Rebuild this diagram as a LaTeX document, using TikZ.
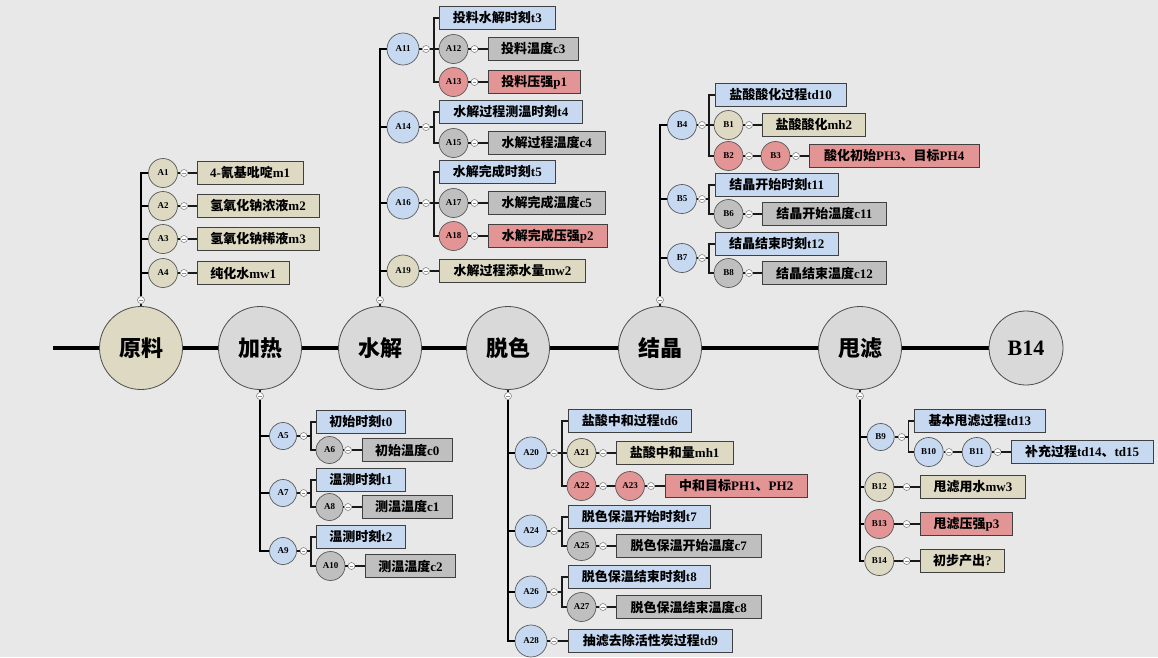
\documentclass[tikz,border=0pt]{standalone}
\usepackage{fontspec}
\setmainfont{Liberation Serif}
\newfontfamily\cjk{Noto Sans CJK SC}
\usetikzlibrary{backgrounds}
\newcommand\zh[1]{{\cjk #1}}
\definecolor{cblue}{HTML}{C6D9F1}
\definecolor{cbeige}{HTML}{DDD9C3}
\definecolor{cgray}{HTML}{BFBFBF}
\definecolor{cred}{HTML}{E39494}
\definecolor{cmain}{HTML}{D9D9D9}
\definecolor{cbg}{HTML}{E8E8E8}
\tikzset{
  mainc/.style={circle, draw=black!70, line width=0.8pt, minimum size=83pt, inner sep=0pt, font=\bfseries\fontsize{22}{24}\selectfont},
  sc/.style={circle, draw=black!65, line width=0.7pt, minimum size=29pt, inner sep=0pt, font=\bfseries\fontsize{9}{10}\selectfont},
  big/.style={minimum size=32pt},
  small/.style={minimum size=27pt},
  knob/.style={circle, draw=black!55, fill=white, minimum size=7pt, inner sep=0pt, line width=0.5pt,
    path picture={\draw[black!45, line width=0.4pt] ([xshift=-1.8pt]path picture bounding box.center) -- ([xshift=1.8pt]path picture bounding box.center);}},
  bx/.style={rectangle, draw=black!75, line width=0.8pt, minimum height=23pt, inner xsep=3pt, inner ysep=0pt, font=\bfseries\fontsize{13}{15}\selectfont},
  trunk/.style={line width=2.2pt, black},
  stub/.style={line width=1.3pt, black!90},
  mainline/.style={line width=4pt, black},
}
\newcommand\cn[6][]{\node[sc,fill=#5,#1] (#2) at (#3,#4) {#6};}
\newcommand\kb[3]{\node[knob] (#1) at (#2,#3) {};}
\newcommand\bx[6]{\node[bx,fill=#5,minimum width=#4pt,anchor=west] (#1) at (#2,#3) {#6};}
\begin{document}
\begin{tikzpicture}[x=1pt,y=-1pt]
\useasboundingbox (0,0) rectangle (1158,657);
% main circles
\node[mainc, fill=cbeige] (m1) at (141,348) {\zh{原料}};
\node[mainc, fill=cmain] (m2) at (260,348) {\zh{加热}};
\node[mainc, fill=cmain] (m3) at (380,348) {\zh{水解}};
\node[mainc, fill=cmain] (m4) at (508,348) {\zh{脱色}};
\node[mainc, fill=cmain] (m5) at (660,348) {\zh{结晶}};
\node[mainc, fill=cmain] (m6) at (860,348) {\zh{甩滤}};
\node[mainc, fill=cmain, minimum size=74pt] (m7) at (1026,348) {B14};
\begin{scope}[on background layer]
\fill[cbg] (0,0) rectangle (1158,657);
\coordinate (start) at (53,348);
\draw[mainline] (start) -- (m1.center) -- (m2.center) -- (m3.center) -- (m4.center) -- (m5.center) -- (m6.center) -- (m7.center);
\end{scope}
\kb{km1}{141}{300} \kb{km3}{380}{300} \kb{km5}{660}{300}
\kb{km2}{260}{396} \kb{km4}{508}{396} \kb{km6}{860}{396}
\foreach \k/\m in {km1/m1,km2/m2,km3/m3,km4/m4,km5/m5,km6/m6} {\draw[stub] (\k) -- (\m);}

% ---- 原料
\cn{a1}{163}{173}{cbeige}{A1} \kb{ka1}{184}{173} \bx{ba1}{196.5}{173}{106.5}{cbeige}{4-\zh{氰基吡啶}m1}
\cn{a2}{163}{206}{cbeige}{A2} \kb{ka2}{184}{206} \bx{ba2}{196.5}{206}{122.5}{cbeige}{\zh{氢氧化钠浓液}m2}
\cn{a3}{163}{239}{cbeige}{A3} \kb{ka3}{184}{239} \bx{ba3}{196.5}{239}{122.5}{cbeige}{\zh{氢氧化钠稀液}m3}
\cn{a4}{163}{273}{cbeige}{A4} \kb{ka4}{184}{273} \bx{ba4}{196.5}{273}{92.5}{cbeige}{\zh{纯化水}mw1}
\foreach \n in {1,2,3,4} {\draw[trunk] (km1.north) |- (a\n.west); \draw[stub] (a\n) -- (ka\n) -- (ba\n);}

% ---- 水解
\cn[big]{a11}{403}{49}{cblue}{A11} \kb{ka11}{426}{49} \coordinate (j11) at (434,49);
\bx{t3}{439}{18}{116}{cblue}{\zh{投料水解时刻}t3}
\cn{a12}{453.5}{49}{cgray}{A12} \kb{ka12}{474.5}{49} \bx{ba12}{487.5}{49}{90.5}{cgray}{\zh{投料温度}c3}
\cn{a13}{453.5}{82}{cred}{A13} \kb{ka13}{474.5}{82} \bx{ba13}{487.5}{82}{92.5}{cred}{\zh{投料压强}p1}
\cn[big]{a14}{403}{127}{cblue}{A14} \kb{ka14}{426}{127} \coordinate (j14) at (434,127);
\bx{t4}{439}{112}{143}{cblue}{\zh{水解过程测温时刻}t4}
\cn{a15}{453.5}{143}{cgray}{A15} \kb{ka15}{474.5}{143} \bx{ba15}{487.5}{143}{117.5}{cgray}{\zh{水解过程温度}c4}
\cn[big]{a16}{403}{203}{cblue}{A16} \kb{ka16}{426}{203} \coordinate (j16) at (434,203);
\bx{t5}{439}{172}{116}{cblue}{\zh{水解完成时刻}t5}
\cn{a17}{453.5}{203}{cgray}{A17} \kb{ka17}{474.5}{203} \bx{ba17}{487.5}{203}{117.5}{cgray}{\zh{水解完成温度}c5}
\cn{a18}{453.5}{236}{cred}{A18} \kb{ka18}{474.5}{236} \bx{ba18}{487.5}{236}{119.5}{cred}{\zh{水解完成压强}p2}
\cn[big]{a19}{403}{271}{cbeige}{A19} \kb{ka19}{426}{271} \bx{ba19}{439}{271}{146}{cbeige}{\zh{水解过程添水量}mw2}
\foreach \n in {11,14,16,19} {\draw[trunk] (km3.north) |- (a\n.west);}
\draw[stub] (a11) -- (ka11) -- (j11) -- (a12);
\draw[stub] (j11) |- (t3.west); \draw[stub] (j11) |- (a13.west);
\draw[stub] (a12) -- (ka12) -- (ba12); \draw[stub] (a13) -- (ka13) -- (ba13);
\draw[stub] (a14) -- (ka14) -- (j14);
\draw[stub] (j14) |- (t4.west); \draw[stub] (j14) |- (a15.west);
\draw[stub] (a15) -- (ka15) -- (ba15);
\draw[stub] (a16) -- (ka16) -- (j16) -- (a17);
\draw[stub] (j16) |- (t5.west); \draw[stub] (j16) |- (a18.west);
\draw[stub] (a17) -- (ka17) -- (ba17); \draw[stub] (a18) -- (ka18) -- (ba18);
\draw[stub] (a19) -- (ka19) -- (ba19);

% ---- 结晶
\cn{b4}{682}{125}{cblue}{B4} \kb{kb4}{702}{125} \coordinate (j4) at (709,125);
\bx{td10}{715}{95}{130.5}{cblue}{\zh{盐酸酸化过程}td10}
\cn{b1}{728.5}{125}{cbeige}{B1} \kb{kb1}{749}{125} \bx{bb1}{762}{125}{103}{cbeige}{\zh{盐酸酸化}mh2}
\cn{b2}{728.5}{156}{cred}{B2} \kb{kb2}{749}{156}
\cn{b3}{775.5}{156}{cred}{B3} \kb{kb3}{796}{156} \bx{bb3}{809}{156}{169.6}{cred}{\zh{酸化初始}PH3\zh{、目标}PH4}
\cn{b5}{682}{199}{cblue}{B5} \kb{kb5}{702}{199} \coordinate (j5) at (709,199);
\bx{t11}{715}{185}{122.6}{cblue}{\zh{结晶开始时刻}t11}
\cn{b6}{728.5}{214}{cgray}{B6} \kb{kb6}{749}{214} \bx{bb6}{762}{214}{124}{cgray}{\zh{结晶开始温度}c11}
\cn{b7}{682}{258}{cblue}{B7} \kb{kb7}{702}{258} \coordinate (j7) at (709,258);
\bx{t12}{715}{244}{122.6}{cblue}{\zh{结晶结束时刻}t12}
\cn{b8}{728.5}{273}{cgray}{B8} \kb{kb8}{749}{273} \bx{bb8}{762}{273}{124}{cgray}{\zh{结晶结束温度}c12}
\foreach \n in {4,5,7} {\draw[trunk] (km5.north) |- (b\n.west);}
\draw[stub] (b4) -- (kb4) -- (j4) -- (b1);
\draw[stub] (j4) |- (td10.west); \draw[stub] (j4) |- (b2.west);
\draw[stub] (b1) -- (kb1) -- (bb1);
\draw[stub] (b2) -- (kb2) -- (b3) -- (kb3) -- (bb3);
\draw[stub] (b5) -- (kb5) -- (j5);
\draw[stub] (j5) |- (t11.west); \draw[stub] (j5) |- (b6.west);
\draw[stub] (b6) -- (kb6) -- (bb6);
\draw[stub] (b7) -- (kb7) -- (j7);
\draw[stub] (j7) |- (t12.west); \draw[stub] (j7) |- (b8.west);
\draw[stub] (b8) -- (kb8) -- (bb8);

% ---- 加热
\cn[small]{a5}{283}{436}{cblue}{A5} \kb{ka5}{303.6}{436} \coordinate (jh5) at (311,436);
\bx{t0}{316}{422}{89}{cblue}{\zh{初始时刻}t0}
\cn[small]{a6}{329.5}{450}{cgray}{A6} \kb{ka6}{348}{450} \bx{ba6}{362}{450}{89.5}{cgray}{\zh{初始温度}c0}
\cn[small]{a7}{283}{493}{cblue}{A7} \kb{ka7}{303.6}{493} \coordinate (jh7) at (311,493);
\bx{t1}{316}{480}{89}{cblue}{\zh{温测时刻}t1}
\cn[small]{a8}{329.5}{507}{cgray}{A8} \kb{ka8}{348}{507} \bx{ba8}{362}{507}{89.5}{cgray}{\zh{测温温度}c1}
\cn[small]{a9}{283}{551}{cblue}{A9} \kb{ka9}{303.6}{551} \coordinate (jh9) at (311,551);
\bx{t2}{316}{537}{89}{cblue}{\zh{温测时刻}t2}
\cn{a10}{330.5}{566}{cgray}{A10} \kb{ka10}{351.5}{566} \bx{ba10}{365}{566}{90}{cgray}{\zh{测温温度}c2}
\foreach \n in {5,7,9} {\draw[trunk] (km2.south) |- (a\n.west);}
\draw[stub] (a5) -- (ka5) -- (jh5); \draw[stub] (jh5) |- (t0.west); \draw[stub] (jh5) |- (a6.west);
\draw[stub] (a6) -- (ka6) -- (ba6);
\draw[stub] (a7) -- (ka7) -- (jh7); \draw[stub] (jh7) |- (t1.west); \draw[stub] (jh7) |- (a8.west);
\draw[stub] (a8) -- (ka8) -- (ba8);
\draw[stub] (a9) -- (ka9) -- (jh9); \draw[stub] (jh9) |- (t2.west); \draw[stub] (jh9) |- (a10.west);
\draw[stub] (a10) -- (ka10) -- (ba10);

% ---- 脱色
\cn[big]{a20}{531}{453}{cblue}{A20} \kb{ka20}{554}{453} \coordinate (j20) at (562,453);
\bx{td6}{568}{421}{123}{cblue}{\zh{盐酸中和过程}td6}
\cn{a21}{581.5}{453}{cbeige}{A21} \kb{ka21}{603}{453} \bx{ba21}{616}{453}{116.6}{cbeige}{\zh{盐酸中和量}mh1}
\cn{a22}{581.5}{486}{cred}{A22} \kb{ka22}{603}{486}
\cn{a23}{630}{486}{cred}{A23} \kb{ka23}{651}{486} \bx{ba23}{664.6}{486}{142.4}{cred}{\zh{中和目标}PH1\zh{、}PH2}
\cn[big]{a24}{531}{531}{cblue}{A24} \kb{ka24}{554}{531} \coordinate (j24) at (562,531);
\bx{t7}{568}{517}{142}{cblue}{\zh{脱色保温开始时刻}t7}
\cn{a25}{581.5}{546}{cgray}{A25} \kb{ka25}{603}{546} \bx{ba25}{616}{546}{144.7}{cgray}{\zh{脱色保温开始温度}c7}
\cn[big]{a26}{531}{592}{cblue}{A26} \kb{ka26}{554}{592} \coordinate (j26) at (562,592);
\bx{t8}{568}{577}{142}{cblue}{\zh{脱色保温结束时刻}t8}
\cn{a27}{581.5}{607}{cgray}{A27} \kb{ka27}{603}{607} \bx{ba27}{616}{607}{144.7}{cgray}{\zh{脱色保温结束温度}c8}
\cn[big]{a28}{531}{641}{cblue}{A28} \kb{ka28}{554}{641} \bx{ba28}{568}{641}{164}{cblue}{\zh{抽滤去除活性炭过程}td9}
\foreach \n in {20,24,26,28} {\draw[trunk] (km4.south) |- (a\n.west);}
\draw[stub] (a20) -- (ka20) -- (j20) -- (a21);
\draw[stub] (j20) |- (td6.west); \draw[stub] (j20) |- (a22.west);
\draw[stub] (a21) -- (ka21) -- (ba21);
\draw[stub] (a22) -- (ka22) -- (a23) -- (ka23) -- (ba23);
\draw[stub] (a24) -- (ka24) -- (j24); \draw[stub] (j24) |- (t7.west); \draw[stub] (j24) |- (a25.west);
\draw[stub] (a25) -- (ka25) -- (ba25);
\draw[stub] (a26) -- (ka26) -- (j26); \draw[stub] (j26) |- (t8.west); \draw[stub] (j26) |- (a27.west);
\draw[stub] (a27) -- (ka27) -- (ba27);
\draw[stub] (a28) -- (ka28) -- (ba28);

% ---- 甩滤
\cn[small]{b9}{880.7}{437}{cblue}{B9} \kb{kb9}{901.7}{437} \coordinate (j9) at (908.7,437);
\bx{td13}{914}{421}{131}{cblue}{\zh{基本甩滤过程}td13}
\cn{b10}{928.7}{452}{cblue}{B10} \kb{kb10}{949}{452}
\cn{b11}{976.7}{452}{cblue}{B11} \kb{kb11}{997.7}{452} \bx{bb11}{1010.7}{452}{142}{cblue}{\zh{补充过程}td14\zh{、}td15}
\cn{b12}{879.3}{487}{cbeige}{B12} \kb{kb12}{906.7}{487} \bx{bb12}{920}{487}{105}{cbeige}{\zh{甩滤用水}mw3}
\cn{b13}{879.3}{524}{cred}{B13} \kb{kb13}{906.7}{524} \bx{bb13}{920}{524}{92}{cred}{\zh{甩滤压强}p3}
\cn{b14}{879.3}{561}{cbeige}{B14} \kb{kb14}{906.7}{561} \bx{bb14}{920}{561}{84}{cbeige}{\zh{初步产出}?}
\foreach \n in {9,12,13,14} {\draw[trunk] (km6.south) |- (b\n.west);}
\draw[stub] (b9) -- (kb9) -- (j9); \draw[stub] (j9) |- (td13.west); \draw[stub] (j9) |- (b10.west);
\draw[stub] (b10) -- (kb10) -- (b11) -- (kb11) -- (bb11);
\draw[stub] (b12) -- (kb12) -- (bb12);
\draw[stub] (b13) -- (kb13) -- (bb13);
\draw[stub] (b14) -- (kb14) -- (bb14);
\end{tikzpicture}
\end{document}
